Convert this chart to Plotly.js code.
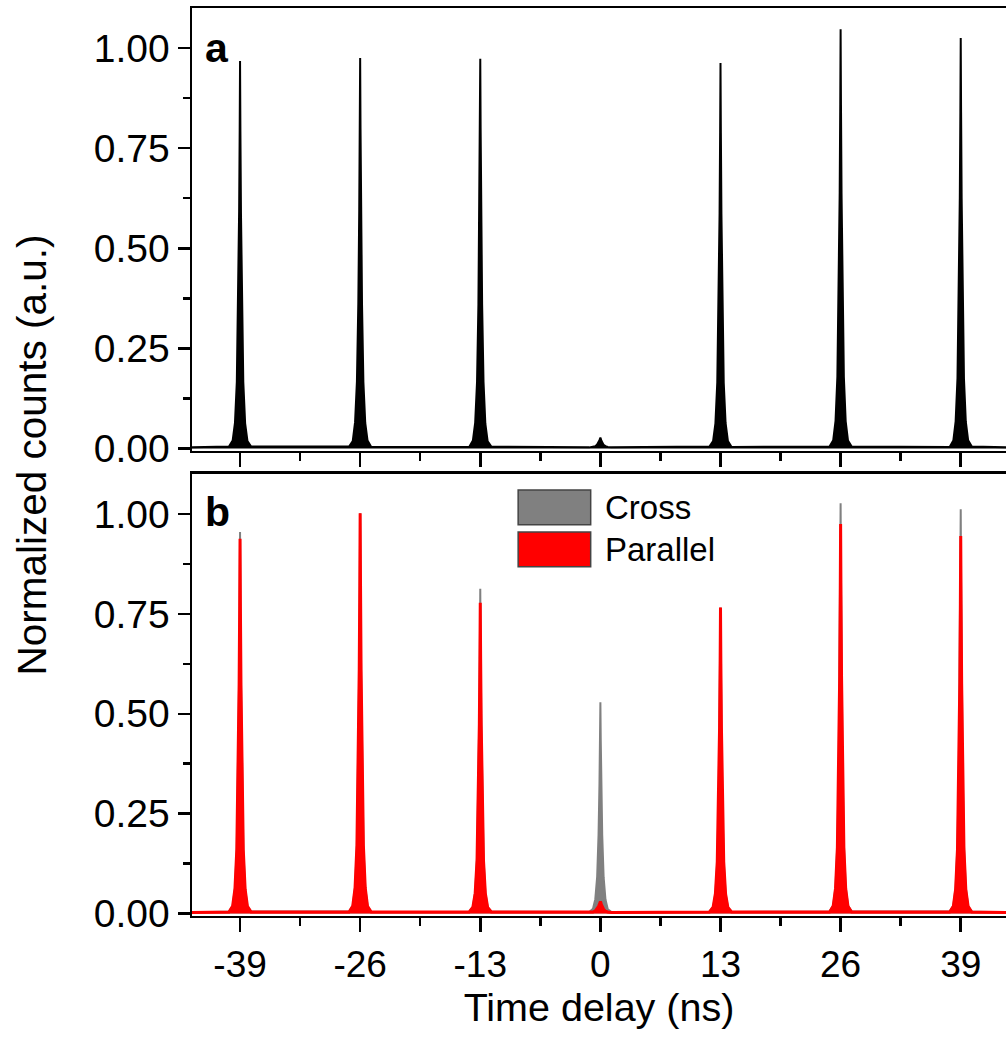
<!DOCTYPE html>
<html>
<head>
<meta charset="utf-8">
<script src="https://cdn.plot.ly/plotly-3.0.1.min.js"></script>
<style>html,body{margin:0;padding:0;background:#fff;}#chart{width:1006px;height:1041px;}</style>
</head>
<body>
<div id="chart"></div>
<script>
// Peak centres (ns) and tick labels
const peakCenters = [-39, -26, -13, 0, 13, 26, 39];
const xTickLabels = ['-39', '-26', '-13', '0', '13', '26', '39'];
const yTickVals = [0, 0.25, 0.5, 0.75, 1.0];
// sample offsets (ns) around each peak centre
const offsets = [-1.2, -0.8, -0.55, -0.35, -0.2, -0.1, -0.04, 0, 0.04, 0.1, 0.2, 0.35, 0.55, 0.8, 1.2];
// baseline points at the ends of the recorded window
const edgeX = [-44.2, 43.9];
const edgeY = [0.003, 0.003];

// Panel a: normalized counts per peak
const countsA = [
  [0.005,0.020,0.064,0.166,0.360,0.592,0.795,0.968,0.792,0.588,0.358,0.167,0.063,0.019,0.005],
  [0.005,0.019,0.066,0.168,0.362,0.597,0.801,0.975,0.798,0.594,0.361,0.166,0.064,0.020,0.004],
  [0.004,0.020,0.065,0.167,0.361,0.595,0.799,0.973,0.797,0.593,0.360,0.167,0.062,0.018,0.005],
  [0.003,0.004,0.006,0.010,0.015,0.021,0.025,0.027,0.025,0.020,0.014,0.009,0.006,0.004,0.003],
  [0.005,0.019,0.063,0.165,0.358,0.588,0.790,0.963,0.789,0.587,0.357,0.164,0.064,0.019,0.004],
  [0.005,0.021,0.069,0.180,0.389,0.640,0.860,1.047,0.858,0.637,0.388,0.179,0.068,0.020,0.005],
  [0.004,0.020,0.068,0.176,0.381,0.627,0.841,1.025,0.840,0.625,0.380,0.175,0.067,0.021,0.005]
];
// Panel b: Cross polarization
const countsCross = [
  [0.005,0.019,0.064,0.164,0.356,0.584,0.784,0.955,0.782,0.583,0.354,0.163,0.062,0.018,0.005],
  [0.005,0.020,0.066,0.172,0.372,0.612,0.822,1.002,0.821,0.611,0.371,0.171,0.065,0.019,0.004],
  [0.004,0.017,0.054,0.140,0.302,0.497,0.667,0.813,0.666,0.495,0.301,0.139,0.053,0.016,0.005],
  [0.004,0.012,0.036,0.092,0.197,0.324,0.434,0.529,0.433,0.322,0.196,0.091,0.035,0.011,0.004],
  [0.004,0.016,0.051,0.131,0.285,0.468,0.628,0.766,0.627,0.467,0.284,0.130,0.050,0.016,0.004],
  [0.005,0.021,0.067,0.176,0.382,0.628,0.843,1.027,0.841,0.626,0.381,0.175,0.066,0.020,0.005],
  [0.005,0.020,0.066,0.173,0.376,0.618,0.830,1.012,0.829,0.617,0.375,0.172,0.065,0.019,0.005]
];
// Panel b: Parallel polarization
const countsParallel = [
  [0.004,0.019,0.062,0.160,0.348,0.573,0.770,0.938,0.768,0.572,0.347,0.159,0.061,0.018,0.004],
  [0.004,0.019,0.065,0.171,0.371,0.611,0.821,1.002,0.820,0.610,0.370,0.170,0.064,0.018,0.004],
  [0.004,0.016,0.051,0.133,0.289,0.475,0.638,0.778,0.637,0.474,0.288,0.132,0.050,0.015,0.004],
  [0.003,0.004,0.007,0.012,0.018,0.024,0.028,0.030,0.028,0.023,0.017,0.011,0.006,0.004,0.003],
  [0.004,0.016,0.050,0.130,0.284,0.467,0.627,0.766,0.626,0.466,0.283,0.129,0.049,0.015,0.004],
  [0.004,0.019,0.063,0.166,0.361,0.595,0.799,0.975,0.797,0.593,0.360,0.165,0.062,0.018,0.004],
  [0.004,0.018,0.061,0.161,0.350,0.577,0.775,0.945,0.774,0.576,0.349,0.160,0.060,0.018,0.004]
];

function buildSeries(counts) {
  const x = [edgeX[0]], y = [edgeY[0]];
  peakCenters.forEach((c, i) => {
    offsets.forEach((o, j) => { x.push(c + o); y.push(counts[i][j]); });
  });
  x.push(edgeX[1]); y.push(edgeY[1]);
  return {x, y};
}

const sA = buildSeries(countsA);
const sC = buildSeries(countsCross);
const sP = buildSeries(countsParallel);

const FONT = 'Liberation Sans, Arial, sans-serif';

const traces = [
  {x: sA.x, y: sA.y, xaxis: 'x', yaxis: 'y', type: 'scatter', mode: 'lines',
   fill: 'tozeroy', fillcolor: '#000000', line: {color: '#000000', width: 2}, showlegend: false},
  {x: sC.x, y: sC.y, xaxis: 'x2', yaxis: 'y2', type: 'scatter', mode: 'lines', name: 'Cross',
   fill: 'tozeroy', fillcolor: '#808080', line: {color: '#808080', width: 2}, showlegend: false},
  {x: sP.x, y: sP.y, xaxis: 'x2', yaxis: 'y2', type: 'scatter', mode: 'lines', name: 'Parallel',
   fill: 'tozeroy', fillcolor: '#ff0000', line: {color: '#ff0000', width: 3}, showlegend: false}
];

const xRange = [-44.2, 43.9];
const yRange = [-0.006, 1.10];

function xAxis(anchor, labels) {
  return {
    anchor: anchor, domain: [0, 1], range: xRange,
    tickmode: 'array', tickvals: peakCenters, ticktext: xTickLabels,
    showticklabels: labels,
    ticks: 'outside', ticklen: 14, tickwidth: 2.5, tickcolor: '#000',
    minor: {dtick: 6.5, tick0: 0, ticks: 'outside', ticklen: 8, tickwidth: 2.5, tickcolor: '#000', showgrid: false},
    showline: true, linewidth: 2.5, linecolor: '#000', mirror: true,
    showgrid: false, zeroline: false, layer: 'below traces',
    tickfont: {family: FONT, size: 37, color: '#000'}
  };
}
function yAxis(domain, anchor) {
  return {
    anchor: anchor, domain: domain, range: yRange,
    tickmode: 'array', tickvals: yTickVals, tickformat: '.2f',
    ticks: 'outside', ticklen: 12, tickwidth: 2.5, tickcolor: '#000',
    minor: {dtick: 0.125, tick0: 0, ticks: 'outside', ticklen: 7, tickwidth: 2.5, tickcolor: '#000', showgrid: false},
    showline: true, linewidth: 2.5, linecolor: '#000', mirror: false,
    showgrid: false, zeroline: false, layer: 'below traces',
    tickfont: {family: FONT, size: 39, color: '#000'}
  };
}

const xa2 = xAxis('y2', true);
xa2.title = {text: 'Time delay (ns)', font: {family: FONT, size: 39.5, color: '#000'}, standoff: 10};

const layout = {
  width: 1006, height: 1041,
  margin: {l: 192, r: 0, t: 0, b: 0},
  paper_bgcolor: '#fff', plot_bgcolor: 'rgba(0,0,0,0)',
  showlegend: false,
  xaxis: xAxis('y', false),
  yaxis: yAxis([0.5668, 0.9923], 'x'),
  xaxis2: xa2,
  yaxis2: yAxis([0.1201, 0.5447], 'x2'),
  shapes: [
    {type: 'rect', xref: 'x2', yref: 'y2', x0: -8.9, x1: -1.05, y0: 0.973, y1: 1.060,
     fillcolor: '#808080', line: {color: '#444', width: 1.5}},
    {type: 'rect', xref: 'x2', yref: 'y2', x0: -8.9, x1: -1.05, y0: 0.868, y1: 0.955,
     fillcolor: '#ff0000', line: {color: '#444', width: 1.5}}
  ],
  annotations: [
    {text: 'Cross', xref: 'x2', yref: 'y2', x: 0.25, y: 1.016, xanchor: 'left', yanchor: 'middle',
     showarrow: false, font: {family: FONT, size: 33, color: '#000'}},
    {text: 'Parallel', xref: 'x2', yref: 'y2', x: 0.25, y: 0.911, xanchor: 'left', yanchor: 'middle',
     showarrow: false, font: {family: FONT, size: 33, color: '#000'}},
    {text: '<b>a</b>', xref: 'x', yref: 'y', x: -43.0, y: 1.0, xanchor: 'left', yanchor: 'middle',
     showarrow: false, font: {family: FONT, size: 41, color: '#000'}},
    {text: '<b>b</b>', xref: 'x2', yref: 'y2', x: -43.0, y: 1.005, xanchor: 'left', yanchor: 'middle',
     showarrow: false, font: {family: FONT, size: 41, color: '#000'}},
    {text: 'Normalized counts (a.u.)', xref: 'paper', yref: 'paper', x: -0.197, y: 0.563,
     xanchor: 'center', yanchor: 'middle', textangle: -90, showarrow: false,
     font: {family: FONT, size: 40.5, color: '#000'}}
  ]
};

Plotly.newPlot('chart', traces, layout, {displayModeBar: false, staticPlot: true});
</script>
</body>
</html>
